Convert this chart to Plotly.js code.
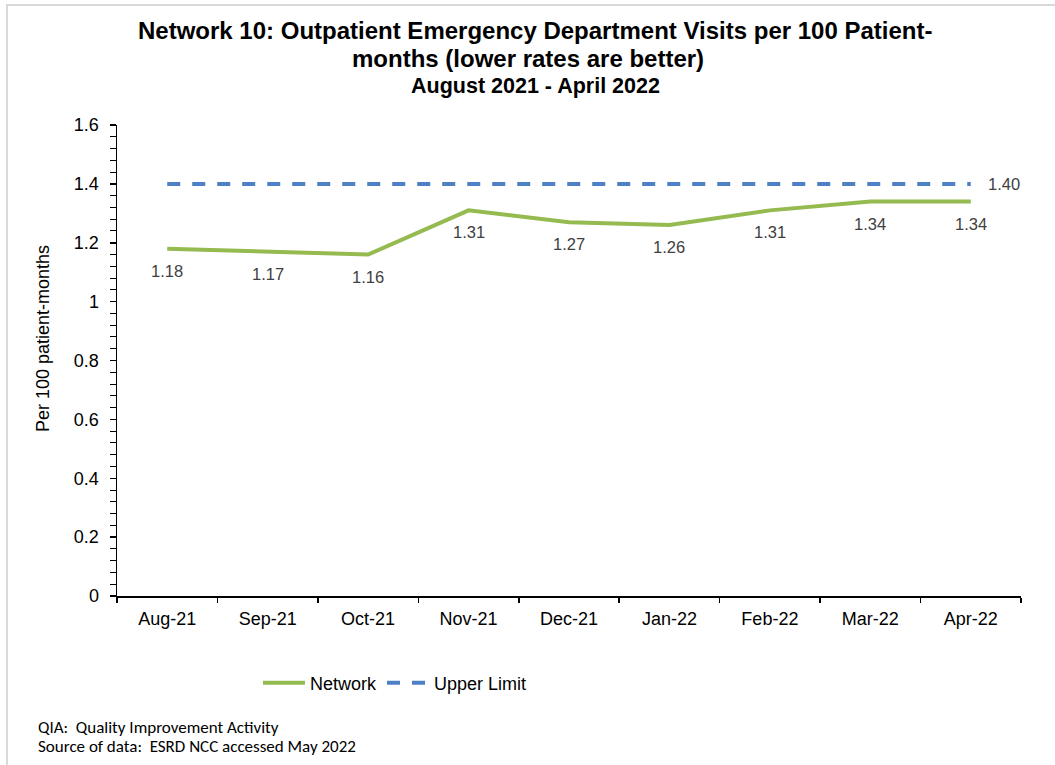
<!DOCTYPE html>
<html>
<head>
<meta charset="utf-8">
<script src="https://cdn.plot.ly/plotly-3.0.1.min.js"></script>
<style>
  html, body { margin: 0; padding: 0; background: #ffffff; }
  #chart { position: absolute; left: 0; top: 0; width: 1055px; height: 765px; }
  #frame { position: absolute; left: 6px; top: 4px; width: 1100px; height: 800px;
           border-left: 2px solid #d9d9d9; border-top: 2px solid #d9d9d9; pointer-events: none; }
</style>
</head>
<body>
<div id="chart"></div>
<div id="frame"></div>
<script>
// Monthly categories and rates (visits per 100 patient-months)
const months = ["Aug-21", "Sep-21", "Oct-21", "Nov-21", "Dec-21", "Jan-22", "Feb-22", "Mar-22", "Apr-22"];
const networkRate = [1.18, 1.17, 1.16, 1.31, 1.27, 1.26, 1.31, 1.34, 1.34];
const upperLimit = [1.40, 1.40, 1.40, 1.40, 1.40, 1.40, 1.40, 1.40, 1.40];
const yTicks = [0, 0.2, 0.4, 0.6, 0.8, 1, 1.2, 1.4, 1.6];
const yTickText = ["0", "0.2", "0.4", "0.6", "0.8", "1", "1.2", "1.4", "1.6"];

const FONT = "Arial, 'Liberation Sans', sans-serif";
const FOOT_FONT = "Carlito, Calibri, Lato, sans-serif";
const NB = "\u00a0";
const lastIdx = months.length - 1;

const traces = [
  {
    x: months, y: networkRate, name: "Network", type: "scatter", mode: "lines",
    line: { color: "#94BA50", width: 4 },
    hoverinfo: "x+y"
  },
  {
    x: months, y: upperLimit, name: "Upper Limit", type: "scatter", mode: "lines",
    line: { color: "#4D80C4", width: 4, dash: "13px,12px" },
    hoverinfo: "x+y"
  }
];

const plotTop = 125, plotBottom = 596, plotLeft = 117, plotRight = 1021;
const ph = plotBottom - plotTop, pw = plotRight - plotLeft;
const py = px => (plotBottom - px) / ph;
const pxX = px => (px - plotLeft) / pw;

const labelFont = { family: FONT, size: 16.5, color: "#404040" };

// value labels under each Network point
const valueLabels = months.map((m, i) => ({
  x: m, y: networkRate[i], xref: "x", yref: "y", text: networkRate[i].toFixed(2),
  showarrow: false, yanchor: "middle", xanchor: "center", yshift: -22, font: labelFont
}));
// value label right of the last Upper Limit point
valueLabels.push({
  x: months[lastIdx], y: upperLimit[lastIdx], xref: "x", yref: "y", text: upperLimit[lastIdx].toFixed(2),
  showarrow: false, yanchor: "middle", xanchor: "left", xshift: 15, font: labelFont
});

const textNotes = [
  { text: "<b>Network 10: Outpatient Emergency Department Visits per 100 Patient-</b>", xref: "paper", yref: "paper",
    x: pxX(535), y: py(30), xanchor: "center", yanchor: "middle", showarrow: false,
    font: { family: FONT, size: 24, color: "#000000" } },
  { text: "<b>months (lower rates are better)</b>", xref: "paper", yref: "paper",
    x: pxX(528), y: py(58.5), xanchor: "center", yanchor: "middle", showarrow: false,
    font: { family: FONT, size: 24, color: "#000000" } },
  { text: "<b>August 2021 - April 2022</b>", xref: "paper", yref: "paper",
    x: pxX(535), y: py(86), xanchor: "center", yanchor: "middle", showarrow: false,
    font: { family: FONT, size: 21.5, color: "#000000" } },
  { text: "Per 100 patient-months", xref: "paper", yref: "paper", textangle: -90,
    x: pxX(43), y: py(339), xanchor: "center", yanchor: "middle", showarrow: false,
    font: { family: FONT, size: 18, color: "#000000" } },
  { text: "QIA:" + NB + NB + "Quality Improvement" + NB + "Activity", xref: "paper", yref: "paper",
    x: pxX(36), y: py(727), xanchor: "left", yanchor: "middle", showarrow: false,
    font: { family: FOOT_FONT, size: 17, color: "#000000" } },
  { text: "Source of data:" + NB + NB + "ESRD NCC accessed May 2022", xref: "paper", yref: "paper",
    x: pxX(36), y: py(746), xanchor: "left", yanchor: "middle", showarrow: false,
    font: { family: FOOT_FONT, size: 17, color: "#000000" } }
];

const layout = {
  width: 1055, height: 765,
  margin: { l: plotLeft, r: 1055 - plotRight, t: plotTop, b: 765 - plotBottom, pad: 0 },
  paper_bgcolor: "#ffffff", plot_bgcolor: "#ffffff",
  font: { family: FONT, size: 18, color: "#000000" },
  showlegend: true,
  legend: {
    orientation: "h", x: pxX(258), xanchor: "left", y: py(683), yanchor: "middle",
    itemwidth: 42,
    font: { family: FONT, size: 18, color: "#000000" }, bgcolor: "rgba(0,0,0,0)", traceorder: "normal"
  },
  xaxis: {
    type: "category", range: [-0.5, lastIdx + 0.5], tickson: "boundaries",
    showline: true, linecolor: "#000000", linewidth: 1.5, ticks: "outside", ticklen: 5,
    tickcolor: "#000000", tickwidth: 1.5, showgrid: false, zeroline: false,
    ticklabelstandoff: 6,
    tickfont: { family: FONT, size: 18, color: "#000000" }, fixedrange: true
  },
  yaxis: {
    range: [0, 1.6], tickmode: "array", tickvals: yTicks, ticktext: yTickText,
    showline: true, linecolor: "#000000", linewidth: 1.5, ticks: "outside", ticklen: 6,
    tickcolor: "#000000", tickwidth: 1.5, showgrid: false, zeroline: false,
    ticklabelstandoff: 7,
    minor: { dtick: 0.04, tick0: 0, ticks: "outside", ticklen: 6, tickcolor: "#000000", tickwidth: 1, showgrid: false },
    tickfont: { family: FONT, size: 18, color: "#000000" }, fixedrange: true
  },
  annotations: valueLabels.concat(textNotes)
};

Plotly.newPlot("chart", traces, layout, { displayModeBar: false, staticPlot: true });
</script>
</body>
</html>
